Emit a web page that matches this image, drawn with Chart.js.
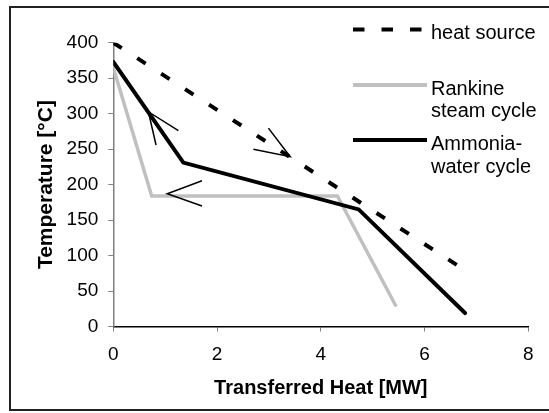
<!DOCTYPE html>
<html>
<head>
<meta charset="utf-8">
<script src="https://cdn.jsdelivr.net/npm/chart.js@4.4.1/dist/chart.umd.min.js"></script>
<style>
  body { margin: 0; background: #fff; }
  canvas { display: block; }
</style>
</head>
<body>
<canvas id="chart" width="549" height="413"></canvas>
<script>
// values
const xTicks = [0, 2, 4, 6, 8];
const yTicks = [0, 50, 100, 150, 200, 250, 300, 350, 400];

const heatQ = [0, 6.68];
const heatT = [400, 84];

const rankineQ = [0, 0.74, 4.32, 5.44];
const rankineT = [365, 184, 184, 30];

const ammoniaQ = [0, 1.35, 4.73, 6.78];
const ammoniaT = [373, 231, 165, 19];

// little arrow heads (end, tip, end)
const arrow1Q = [1.255, 0.676, 0.824];
const arrow1T = [276, 302.7, 255.8];
const arrow2Q = [1.71, 1.04, 1.71];
const arrow2T = [205.5, 187, 169.8];
const arrow3Q = [2.99, 3.41, 2.70];
const arrow3T = [279.6, 239.3, 249.7];

const FONT = "'Liberation Sans', Arial, sans-serif";

function pts(q, t) {
    return q.map((v, i) => ({x: v, y: t[i]}));
}

function arrowSet(q, t) {
    return {
        data: pts(q, t),
        borderColor: '#000',
        borderWidth: 1.5,
        pointRadius: 0,
        order: 0,
    };
}

const frame = {
    id: 'frame',
    beforeDraw(chart) {
        const ctx = chart.ctx;
        ctx.save();
        ctx.fillStyle = '#fff';
        ctx.fillRect(0, 0, chart.width, chart.height);
        ctx.restore();
    },
    afterDraw(chart) {
        const ctx = chart.ctx;
        ctx.save();
        ctx.strokeStyle = '#222';
        ctx.lineWidth = 2;
        ctx.strokeRect(10, 7, 550, 403);

        // legend
        ctx.lineWidth = 4;
        ctx.strokeStyle = '#000';
        ctx.setLineDash([11.5, 17]);
        ctx.beginPath();
        ctx.moveTo(353, 29.5);
        ctx.lineTo(423, 29.5);
        ctx.stroke();
        ctx.setLineDash([]);

        ctx.strokeStyle = '#c0c0c0';
        ctx.beginPath();
        ctx.moveTo(353, 85);
        ctx.lineTo(427, 85);
        ctx.stroke();

        ctx.strokeStyle = '#000';
        ctx.beginPath();
        ctx.moveTo(353, 140);
        ctx.lineTo(427, 140);
        ctx.stroke();

        ctx.fillStyle = '#000';
        ctx.font = '20px ' + FONT;
        ctx.textBaseline = 'alphabetic';
        ctx.fillText('heat source', 431, 38.5);
        ctx.fillText('Rankine', 431, 94.5);
        ctx.fillText('steam cycle', 431, 117);
        ctx.fillText('Ammonia-', 431, 150);
        ctx.fillText('water cycle', 431, 172.5);
        ctx.restore();
    }
};

new Chart(document.querySelector('#chart'), {
    type: 'line',
    data: {
        datasets: [
            arrowSet(arrow1Q, arrow1T),
            arrowSet(arrow2Q, arrow2T),
            arrowSet(arrow3Q, arrow3T),
            {
                label: 'Ammonia-water cycle',
                data: pts(ammoniaQ, ammoniaT),
                borderColor: '#000',
                borderWidth: 4,
                borderCapStyle: 'round',
                pointRadius: 0,
                order: 1,
            },
            {
                label: 'Rankine steam cycle',
                data: pts(rankineQ, rankineT),
                borderColor: '#c0c0c0',
                borderWidth: 3.5,
                borderCapStyle: 'round',
                pointRadius: 0,
                order: 2,
            },
            {
                label: 'heat source',
                data: pts(heatQ, heatT),
                borderColor: '#000',
                borderWidth: 4,
                borderDash: [10, 18.5],
                pointRadius: 0,
                order: 3,
            },
        ]
    },
    options: {
        responsive: false,
        animation: false,
        devicePixelRatio: 1,
        layout: {
            padding: {left: 31, top: 42.7, right: 20.7, bottom: 0}
        },
        plugins: {
            legend: {display: false},
            tooltip: {enabled: false},
        },
        scales: {
            x: {
                type: 'linear',
                min: 0,
                max: 8,
                afterBuildTicks: (s) => { s.ticks = xTicks.map(v => ({value: v})); },
                afterFit: (s) => { s.height = 86.5; },
                border: {color: '#000', width: 1.5},
                grid: {drawOnChartArea: false, drawTicks: true, tickLength: 5, color: '#808080'},
                ticks: {color: '#000', padding: 12, font: {family: FONT, size: 19}},
                title: {
                    display: true,
                    text: 'Transferred Heat [MW]',
                    color: '#000',
                    padding: {top: 0, bottom: 13},
                    font: {family: FONT, size: 20, weight: 'bold'},
                },
            },
            y: {
                min: 0,
                max: 400,
                afterBuildTicks: (s) => { s.ticks = yTicks.map(v => ({value: v})); },
                afterFit: (s) => { s.width = 82.3; },
                border: {color: '#808080', width: 1.5},
                grid: {drawOnChartArea: false, drawTicks: true, tickLength: 5, color: '#808080'},
                ticks: {color: '#000', padding: 10, font: {family: FONT, size: 19}},
                title: {
                    display: true,
                    text: 'Temperature [°C]',
                    color: '#000',
                    padding: {top: 3, bottom: 0},
                    font: {family: FONT, size: 21, weight: 'bold'},
                },
            },
        },
    },
    plugins: [frame],
});
</script>
</body>
</html>
